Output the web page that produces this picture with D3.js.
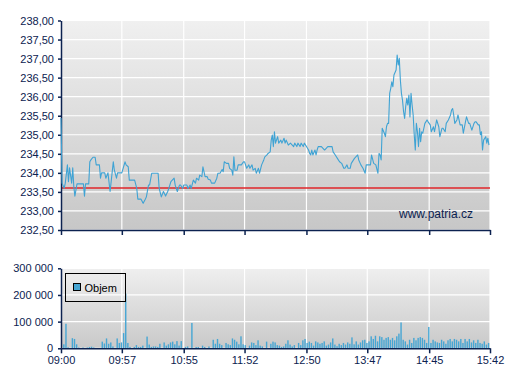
<!DOCTYPE html>
<html><head><meta charset="utf-8">
<script src="https://cdn.jsdelivr.net/npm/d3@7"></script>
<style>html,body{margin:0;padding:0;background:#fff}svg{display:block}</style>
</head><body>
<svg id="c" width="507" height="380"></svg>
<script>
// ---- DATA ----
// minutes after 09:00 for each traded price point
const priceMinutes = [0,1,3,4,6,7,8,10,11,12,13,15,21,22,23,26,27,28,30,32,33,36,37,38,41,42,44,46,47,49,50,52,53,57,60,61,63,64,69,71,72,75,77,79,80,82,83,85,91,92,94,96,98,100,101,103,106,107,109,111,112,114,115,118,119,121,122,124,126,127,129,130,132,133,135,137,138,140,141,144,146,147,149,151,152,153,155,157,158,160,161,162,163,165,166,169,171,172,174,176,177,179,180,182,183,185,186,188,190,191,193,194,196,197,198,199,200,201,203,204,206,207,209,210,211,213,215,218,219,221,222,224,225,227,228,230,232,233,234,235,236,238,239,240,241,244,247,250,254,255,257,259,261,263,265,266,268,269,271,272,275,278,279,281,283,285,286,290,291,293,295,297,298,299,300,301,303,304,305,306,307,308,309,310,311,312,314,315,316,317,318,319,320,321,322,323,324,325,326,327,328,329,330,331,332,333,334,335,336,337,338,339,341,343,344,346,347,349,350,352,354,355,357,358,360,361,363,365,366,367,368,369,371,372,374,376,377,379,380,382,383,385,387,388,389,391,392,393,394,395,396,398,399,400,401];
const priceValues = [235.44,233.73,233.60,233.73,234.21,233.77,234.13,233.73,234.13,233.64,233.39,233.71,233.71,233.39,233.71,233.71,234.29,234.34,234.41,234.41,234.21,234.21,233.86,234.00,234.00,233.86,234.00,233.51,233.77,234.29,234.07,233.86,234.00,234.00,234.29,234.21,234.16,233.81,233.81,233.59,233.31,233.31,233.20,233.31,233.37,233.68,233.68,233.99,233.99,233.59,233.37,233.51,233.39,233.51,233.59,233.77,233.86,233.68,233.51,233.68,233.68,233.59,233.68,233.68,233.59,233.68,233.59,233.81,233.73,233.86,233.81,233.94,233.90,234.16,233.90,233.90,233.83,233.81,233.73,233.73,233.86,233.99,233.99,234.09,234.03,234.29,234.25,234.25,234.12,234.07,233.94,234.42,234.07,234.07,234.21,234.21,234.29,234.29,234.12,234.21,234.12,234.21,234.07,234.12,233.99,234.12,233.99,234.21,234.34,234.42,234.47,234.51,234.55,234.86,234.99,234.69,235.08,234.78,234.95,234.78,234.86,234.78,234.91,234.78,234.86,234.73,234.78,234.69,234.78,234.69,234.78,234.69,234.78,234.69,234.78,234.69,234.60,234.51,234.47,234.60,234.47,234.60,234.47,234.60,234.69,234.69,234.60,234.69,234.69,234.55,234.47,234.38,234.29,234.25,234.12,234.12,234.21,234.12,234.12,234.25,234.38,234.47,234.34,234.21,234.12,233.99,234.21,234.21,234.47,234.25,234.21,233.99,234.51,234.47,234.34,235.17,235.04,234.95,235.21,235.30,235.30,236.09,236.22,236.39,236.26,236.57,236.70,237.09,236.83,237.01,236.44,236.09,235.91,235.61,235.43,235.74,235.96,235.78,236.04,235.47,236.09,235.78,235.52,235.00,234.60,235.30,235.08,234.69,235.17,234.82,235.08,235.04,235.30,235.39,235.34,235.26,235.08,235.21,235.08,235.39,235.21,234.95,235.17,235.17,235.08,235.30,235.39,235.52,235.65,235.69,235.52,235.30,235.39,235.52,235.26,235.26,235.04,235.34,235.47,235.30,235.30,235.12,235.30,235.34,235.34,235.26,235.26,235.00,235.08,234.60,234.86,234.95,234.78,234.91,234.73];
const previousClose = 233.60;
// volume per 2-minute interval, starting 09:00
const volumeValues = [0,15000,92000,4000,0,38000,35000,15000,3000,0,3000,0,3000,5000,6000,3000,0,0,0,25000,18000,37000,17000,22000,7000,0,37000,20000,22000,57000,205000,20000,5000,0,5000,12000,5000,5000,10000,0,44000,14000,5000,7000,7000,5000,17000,0,22000,10000,15000,22000,25000,15000,27000,10000,27000,0,5000,7000,0,95000,0,5000,5000,0,10000,5000,0,7000,0,32000,17000,35000,17000,12000,0,20000,15000,12000,37000,32000,25000,15000,45000,15000,12000,0,10000,22000,20000,12000,30000,10000,7000,0,25000,0,17000,25000,22000,12000,10000,5000,7000,17000,30000,14000,7000,12000,0,20000,12000,30000,35000,20000,25000,20000,10000,26000,22000,17000,20000,26000,10000,14000,22000,37000,14000,8000,17000,12000,20000,14000,22000,17000,41000,15000,26000,14000,22000,30000,32000,20000,26000,45000,35000,47000,26000,45000,42000,32000,39000,42000,32000,39000,30000,45000,55000,97000,32000,26000,14000,32000,20000,39000,30000,39000,42000,39000,32000,20000,80000,20000,32000,26000,22000,20000,32000,26000,17000,30000,35000,26000,35000,32000,26000,35000,20000,35000,26000,35000,22000,30000,20000,32000,20000,17000,26000,14000,20000];
const volumeStepMinutes = 2;
const priceTicks = [232.5,233,233.5,234,234.5,235,235.5,236,236.5,237,237.5,238];
const volumeTicks = [0,100000,200000,300000];
const timeTickLabels = ["09:00","09:57","10:55","11:52","12:50","13:47","14:45","15:42"];
const legendLabel = "Objem";
const watermark = "www.patria.cz";

// ---- CHART ----
const svg = d3.select("#c");
const cs = d3.formatLocale({decimal:",", thousands:"\u00a0", grouping:[3], currency:["","Kč"]});
const fmtPrice = cs.format(".2f");
const fmtVol = d3.formatLocale({decimal:",", thousands:" ", grouping:[3], currency:["",""]}).format(",.0f");
const toMin = s => { const [h,m] = s.split(":").map(Number); return (h-9)*60+m; };
const tickMins = timeTickLabels.map(toMin);

const navy = "#0c2250", lineCol = "#3fa3d4", barCol = "#46a6d4";
const font = "Liberation Sans, Arial, sans-serif";
const L = 61, R = 490;
const P = {top:20.5, bottom:230};
const V = {top:268.3, bottom:348.3};

const x = d3.scaleLinear().domain([0, toMin(timeTickLabels[timeTickLabels.length-1])]).range([L, R]);
const y = d3.scaleLinear().domain([priceTicks[0], priceTicks[priceTicks.length-1]]).range([P.bottom, P.top]);
const yv = d3.scaleLinear().domain([0, volumeTicks[volumeTicks.length-1]]).range([V.bottom, V.top]);

const defs = svg.append("defs");
function grad(id, top, bottom){
  const g = defs.append("linearGradient").attr("id", id).attr("x1",0).attr("y1",0).attr("x2",0).attr("y2",1);
  g.append("stop").attr("offset","0%").attr("stop-color",top);
  g.append("stop").attr("offset","100%").attr("stop-color",bottom);
}
grad("gP", "#f0f0f0", "#c7c7c7");
grad("gV", "#efefef", "#c9c9c9");

svg.append("rect").attr("x",L).attr("y",P.top).attr("width",R-L).attr("height",P.bottom-P.top).attr("fill","url(#gP)");
svg.append("rect").attr("x",L).attr("y",V.top).attr("width",R-L).attr("height",V.bottom-V.top).attr("fill","url(#gV)");

// grid
const gridP = svg.append("g").attr("stroke","#fff").attr("stroke-width",1.2);
gridP.selectAll(".h").data(priceTicks).join("line").attr("x1",L).attr("x2",R).attr("y1",d=>y(d)).attr("y2",d=>y(d));
gridP.selectAll(".v").data(tickMins).join("line").attr("x1",d=>x(d)).attr("x2",d=>x(d)).attr("y1",P.top).attr("y2",P.bottom);
const gridV = svg.append("g").attr("stroke","#fff").attr("stroke-width",1.2);
gridV.selectAll(".h").data(volumeTicks).join("line").attr("x1",L).attr("x2",R).attr("y1",d=>yv(d)).attr("y2",d=>yv(d));
gridV.selectAll(".v").data(tickMins).join("line").attr("x1",d=>x(d)).attr("x2",d=>x(d)).attr("y1",V.top).attr("y2",V.bottom);

// previous close
svg.append("line").attr("x1",L).attr("x2",R).attr("y1",y(previousClose)).attr("y2",y(previousClose))
  .attr("stroke","#e0262a").attr("stroke-width",1.5);

// axes
function styleAxis(g){
  g.select(".domain").attr("stroke",navy).attr("stroke-width",1.5);
  g.selectAll(".tick line").attr("stroke",navy).attr("stroke-width",1.5);
  g.selectAll(".tick text").attr("fill",navy).attr("font-family",font).attr("font-size","11px");
}
svg.append("g").attr("transform",`translate(${L},0)`)
  .call(d3.axisLeft(y).tickValues(priceTicks).tickFormat(fmtPrice).tickSize(3).tickSizeOuter(0).tickPadding(4))
  .call(styleAxis);
svg.append("g").attr("transform",`translate(0,${P.bottom})`)
  .call(d3.axisBottom(x).tickValues(tickMins).tickFormat("").tickSize(5).tickSizeOuter(0))
  .call(styleAxis);
svg.append("g").attr("transform",`translate(${L},0)`)
  .call(d3.axisLeft(yv).tickValues(volumeTicks).tickFormat(fmtVol).tickSize(3).tickSizeOuter(0).tickPadding(5))
  .call(styleAxis);

// volume bars
svg.append("g").selectAll("rect").data(volumeValues).join("rect")
  .attr("x",(d,i)=>x(i*volumeStepMinutes))
  .attr("width",1.4)
  .attr("y",d=>yv(d))
  .attr("height",d=>V.bottom-yv(d))
  .attr("fill",barCol);

svg.append("g").attr("transform",`translate(0,${V.bottom})`)
  .call(d3.axisBottom(x).tickValues(tickMins).tickFormat((d,i)=>timeTickLabels[i]).tickSize(5).tickSizeOuter(0).tickPadding(3))
  .call(styleAxis);

// price line (drawn over the axis, as in the original)
const pts = priceMinutes.map((m,i)=>[m, priceValues[i]]);
svg.append("path").datum(pts)
  .attr("d", d3.line().x(d=>x(d[0])).y(d=>y(d[1])))
  .attr("fill","none").attr("stroke",lineCol).attr("stroke-width",1.1).attr("stroke-linejoin","round");

// watermark
svg.append("text").attr("x",473).attr("y",217.5).attr("text-anchor","end")
  .attr("font-family",font).attr("font-size","12px").attr("fill",navy).text(watermark);

// legend
const lg = svg.append("g");
lg.append("rect").attr("x",65.5).attr("y",273.5).attr("width",60).attr("height",28)
  .attr("fill","none").attr("stroke","#000").attr("stroke-width",1);
lg.append("rect").attr("x",73.5).attr("y",283.5).attr("width",7).attr("height",7)
  .attr("fill",barCol).attr("stroke","#000").attr("stroke-width",1);
lg.append("text").attr("x",84.5).attr("y",291.5).attr("font-family",font).attr("font-size","11px")
  .attr("fill","#000").text(legendLabel);
</script>
</body></html>
